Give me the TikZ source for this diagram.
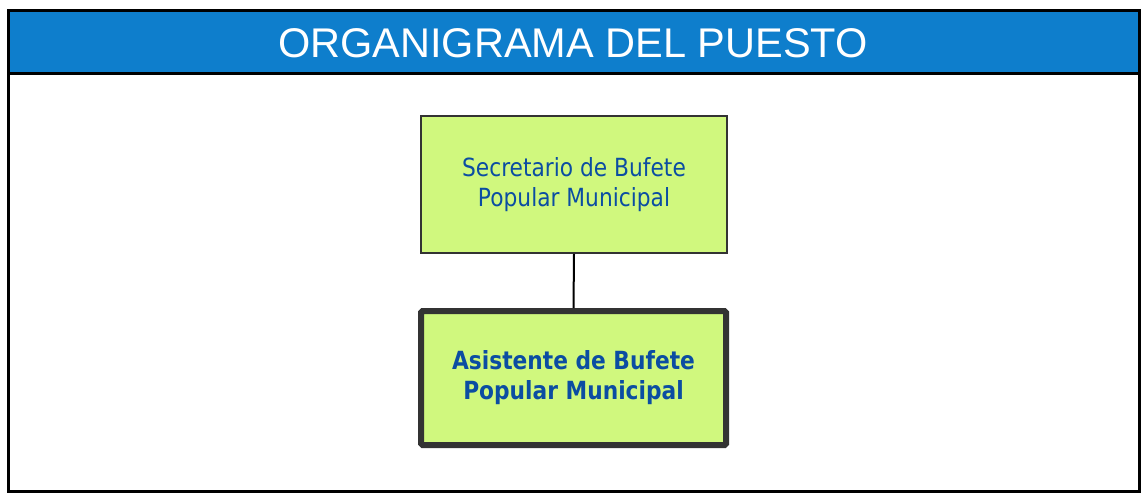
\documentclass[tikz,border=0pt]{standalone}
\usepackage{fontspec}
\setmainfont{Liberation Sans}
\newfontfamily\boxfont[FakeStretch=0.87]{DejaVu Sans}
\definecolor{hdrblue}{HTML}{0E7ECC}
\definecolor{boxgreen}{HTML}{D0F87E}
\definecolor{txtblue}{HTML}{0B4DA2}
\definecolor{edgegray}{HTML}{333333}
\tikzset{
  frame/.style={draw=black, line width=3pt},
  orgbox/.style={draw=edgegray, fill=boxgreen, line width=1.6pt, align=center,
    text=txtblue, font=\boxfont\fontsize{25}{30}\selectfont, inner sep=0pt},
  selbox/.style={orgbox, line width=6pt, rounded corners=1.5pt, font=\boxfont\bfseries\fontsize{25}{30}\selectfont},
  link/.style={draw=black, line width=2pt}
}
\begin{document}
\begin{tikzpicture}[x=1pt,y=-1pt]
\useasboundingbox (0,0) rectangle (1141,493);
\fill[hdrblue] (8,10) rectangle (1139,73);
\node[text=white, font=\fontsize{41.5}{48}\selectfont, anchor=center] (title) at (573,43) {ORGANIGRAMA DEL PUESTO};
\draw[frame] (8,73) -- (1139,73);
\draw[frame] (8,10) rectangle (1139,491);
\node[orgbox, minimum width=306pt, minimum height=137pt] (sec) at (574,184.5) {Secretario de Bufete\\Popular Municipal};
\node[selbox, minimum width=305pt, minimum height=134pt] (asi) at (573.5,378) {Asistente de Bufete\\Popular Municipal};
\draw[link] (sec.south) -- (asi.north);
\end{tikzpicture}
\end{document}
